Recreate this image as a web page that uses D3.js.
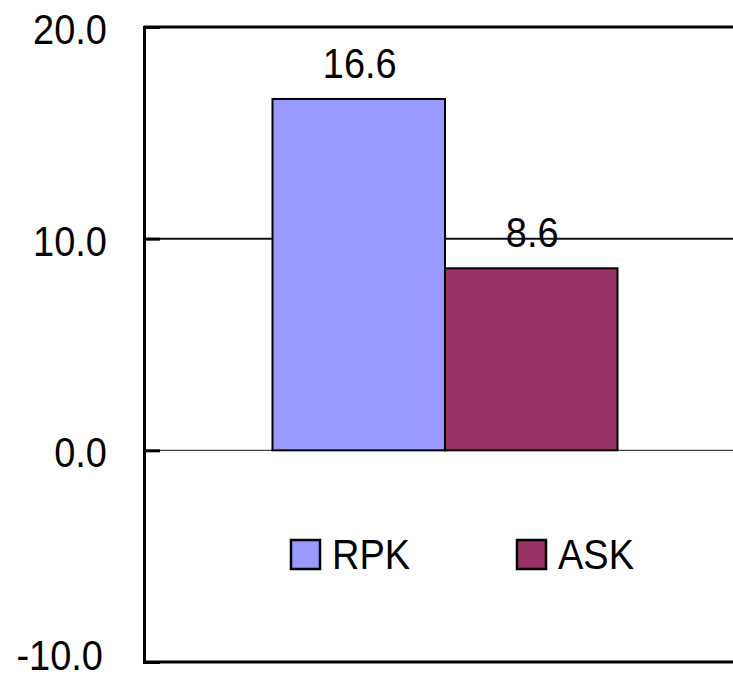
<!DOCTYPE html>
<html>
<head>
<meta charset="utf-8">
<script src="https://cdn.jsdelivr.net/npm/d3@7"></script>
<style>
  html, body { margin: 0; padding: 0; background: #fff; overflow: hidden; }
  svg { display: block; }
  text { font-family: "Liberation Sans", Arial, sans-serif; fill: #000; }
</style>
</head>
<body>
<script>
// ---- data ----
const categories = [""];
const seriesNames = ["RPK", "ASK"];
const seriesValues = [16.6, 8.6];
const seriesColors = ["#9999FF", "#993366"];
const tickValues = [-10, 0, 10, 20];
const tickLabels = ["-10.0", "0.0", "10.0", "20.0"];

(function () {
const W = 733, H = 680;
const svg = d3.select("body").append("svg").attr("width", W).attr("height", H);

const pLeft = 144, pRight = 746, pTop = 27, pBottom = 662;

const y = d3.scaleLinear().domain([-10, 20]).range([pBottom, pTop]);
const x0 = d3.scaleBand().domain(categories).range([pLeft, pRight]).paddingInner(0).paddingOuter(0.3725);
const x1 = d3.scaleBand().domain(seriesNames).range([0, x0.bandwidth()]).padding(0);

// gridline at 10 and zero line
svg.append("line").attr("x1", pLeft).attr("x2", W).attr("y1", y(10)).attr("y2", y(10))
  .attr("stroke", "#111").attr("stroke-width", 2);
svg.append("line").attr("x1", pLeft).attr("x2", W).attr("y1", y(0)).attr("y2", y(0))
  .attr("stroke", "#444").attr("stroke-width", 1.2);

// bars
const data = seriesNames.map((s, i) => ({ s, v: seriesValues[i], c: seriesColors[i] }));
const g = svg.append("g").attr("transform", `translate(${x0(categories[0])},0)`);
g.selectAll("rect").data(data).join("rect")
  .attr("x", d => x1(d.s))
  .attr("width", x1.bandwidth())
  .attr("y", d => y(Math.max(0, d.v)))
  .attr("height", d => Math.abs(y(d.v) - y(0)))
  .attr("fill", d => d.c)
  .attr("stroke", "#000").attr("stroke-width", 2);

// value labels
g.selectAll("g.lbl").data(data).join("g").attr("class", "lbl")
  .attr("transform", d => `translate(${x1(d.s) + x1.bandwidth() / 2 + 1},${y(d.v) - 21}) scale(1,1.1)`)
  .append("text").attr("text-anchor", "middle").attr("font-size", 38).text(d => d.v.toFixed(1));

// frame: top, bottom lines and left axis
svg.append("line").attr("x1", pLeft).attr("x2", W).attr("y1", pTop).attr("y2", pTop)
  .attr("stroke", "#000").attr("stroke-width", 3);
svg.append("line").attr("x1", pLeft).attr("x2", W).attr("y1", pBottom).attr("y2", pBottom)
  .attr("stroke", "#000").attr("stroke-width", 3);

const axis = d3.axisLeft(y).tickValues(tickValues).tickSize(-16).tickFormat("");
const ax = svg.append("g").attr("transform", `translate(${pLeft},0)`).call(axis);
ax.select(".domain").attr("stroke", "#000").attr("stroke-width", 3);
ax.selectAll(".tick line").attr("stroke", "#000").attr("stroke-width", 3);

// tick labels
svg.selectAll("g.tl").data(tickValues).join("g").attr("class", "tl")
  .attr("transform", (d, i) => d === -10
    ? `translate(103,${y(d) + 8}) scale(1,1.1)`
    : `translate(107,${y(d) + 17}) scale(1,1.1)`)
  .append("text").attr("text-anchor", "end").attr("font-size", 38)
  .text((d, i) => tickLabels[i]);

// legend
const legendX = [291, 517];
const lg = svg.selectAll("g.leg").data(data).join("g").attr("class", "leg")
  .attr("transform", (d, i) => `translate(${legendX[i]},540)`);
lg.append("rect").attr("x", 0).attr("y", 0).attr("width", 29).attr("height", 29)
  .attr("fill", d => d.c).attr("stroke", "#000").attr("stroke-width", 2.5);
lg.append("g").attr("transform", "translate(41,29) scale(1,1.12)")
  .append("text").attr("font-size", 38).text(d => d.s);
})();
</script>
</body>
</html>
